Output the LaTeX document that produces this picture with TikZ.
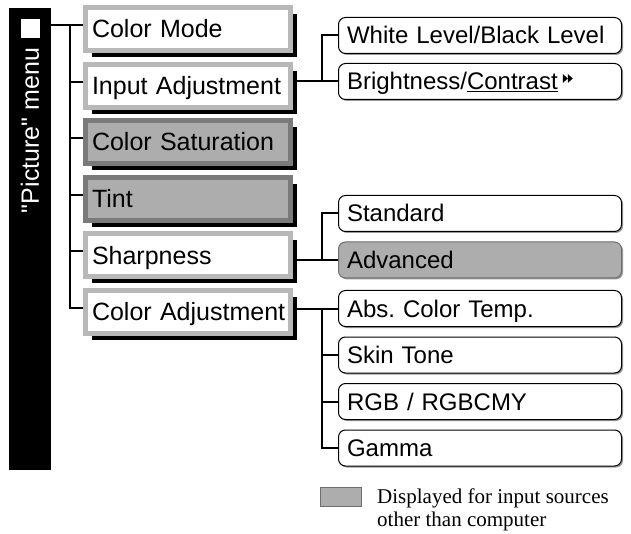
\documentclass[tikz,border=0pt]{standalone}
\usepackage{fontspec}
\setmainfont{Liberation Sans}
\newfontfamily\menufont{Liberation Sans}[Ligatures=TeXOff]
\newfontfamily\notefont{Liberation Serif}
\usetikzlibrary{shadows, positioning, calc}
\definecolor{FrameL}{HTML}{B8B8B8}
\definecolor{FrameD}{HTML}{7A7A7A}
\definecolor{FillG} {HTML}{ADADAD}
\definecolor{EdgeG} {HTML}{6E6E6E}
\tikzset{
  mbox/.style args={#1/#2}{
    rectangle, draw=#1, fill=#2, line width=5pt,
    text width=192pt, align=left, inner xsep=6.5pt, inner ysep=0pt,
    text height=17.5pt, text depth=0pt, minimum height=43pt,
    font=\fontsize{25pt}{30pt}\selectfont,
    drop shadow={shadow xshift=6.5pt, shadow yshift=-6.5pt, fill=black, opacity=1},
  },
  sbox/.style args={#1/#2}{
    rectangle, rounded corners=7pt, draw=#1, fill=#2, line width=1pt,
    text width=266pt, align=left, inner xsep=8.5pt, inner ysep=0pt,
    text height=17pt, text depth=0pt, minimum height=36pt,
    font=\fontsize{24pt}{29pt}\selectfont,
    drop shadow={shadow xshift=1.5pt, shadow yshift=-1.5pt, fill=black!40, opacity=1},
  },
  wire/.style={draw=black, line width=2pt},
  % legend swatch
  keybox/.style={
    rectangle, draw=EdgeG, fill=FillG, line width=1pt,
    inner sep=0pt, minimum width=41pt, minimum height=19pt,
  },
}
\frenchspacing

\begin{document}
\begin{tikzpicture}[x=1pt,y=-1pt]
  \useasboundingbox (0,0) rectangle (631,534);
  % menu column
  \node[fill=black, inner sep=0pt, minimum width=42pt, minimum height=462pt] (bar) at (30,239) {};
  \node[fill=white, inner sep=0pt, minimum size=19pt] (sq) at (30,29) {};
  \node[text=white, rotate=90, font=\menufont\fontsize{25pt}{30pt}\selectfont] (menu) at (30,130.5) {"Picture" menu};

  % first level
  \node[mbox=FrameL/white] (cmode) at (188,29.0)  {Color Mode};
  \node[mbox=FrameL/white] (inadj) at (188,85.6)  {Input Adjustment};
  \node[mbox=FrameD/FillG] (csat)  at (188,142.2) {Color Saturation};
  \node[mbox=FrameD/FillG] (tint)  at (188,198.8) {Tint};
  \node[mbox=FrameL/white] (sharp) at (188,255.4) {Sharpness};
  \node[mbox=FrameL/white] (cadj)  at (188,312.0) {\mbox{Color Adjustment}};

  % second level
  \node[sbox=black/white] (wlev)   at (480,35.5)  {White Level/Black Level};
  \node[sbox=black/white] (bright) at (480,81.5)  {Brightness/\underline{Contrast}\hspace{5pt}\tikz[x=1pt,y=1pt,sharp corners,baseline=-7pt]\fill[black] (0,0)--(0,9)--(5,4.5)--cycle (5,0)--(5,9)--(10,4.5)--cycle;};
  \node[sbox=black/white] (std)    at (480,213.5) {Standard};
  \node[sbox=EdgeG/FillG] (adv)    at (480,260.0) {Advanced};
  \node[sbox=black/white] (abst)   at (480,308.5) {Abs. Color Temp.};
  \node[sbox=black/white] (skin)   at (480,355.0) {Skin Tone};
  \node[sbox=black/white] (rgb)    at (480,401.5) {RGB / RGBCMY};
  \node[sbox=black/white] (gamma)  at (480,448.0) {Gamma};

  % left tree
  \foreach \b in {cmode,inadj,csat,tint,sharp,cadj}
    \coordinate (t-\b) at ([yshift=4pt]\b.west);
  \coordinate (trunk) at ([xshift=-13pt]t-cmode);
  \draw[wire] (bar.east |- t-cmode) -- (t-cmode);
  \draw[wire] (trunk) |- (t-cadj);
  \foreach \b in {inadj,csat,tint,sharp}
    \draw[wire] (trunk |- t-\b) -- (t-\b);

  % right branches
  \coordinate (fork) at (322,0);
  \draw[wire] (inadj.east |- bright) -- (bright.west);
  \draw[wire] (wlev.west) -| (fork |- bright);
  \draw[wire] (sharp.east |- adv) -- (adv.west);
  \draw[wire] (std.west) -| (fork |- adv);
  \draw[wire] (cadj.east |- abst) -- (abst.west);
  \draw[wire] (gamma.west) -| (fork |- abst);
  \foreach \b in {skin,rgb}
    \draw[wire] (fork |- \b) -- (\b.west);

  % legend
  \node[keybox] (key) at (341,497) {};
  \node[right=15pt of key.north east, anchor=north west, yshift=-2pt, inner sep=0pt,
        align=left, font=\notefont\fontsize{21pt}{23pt}\selectfont] (keytxt)
       {Displayed for input sources\\other than computer};
\end{tikzpicture}
\end{document}
